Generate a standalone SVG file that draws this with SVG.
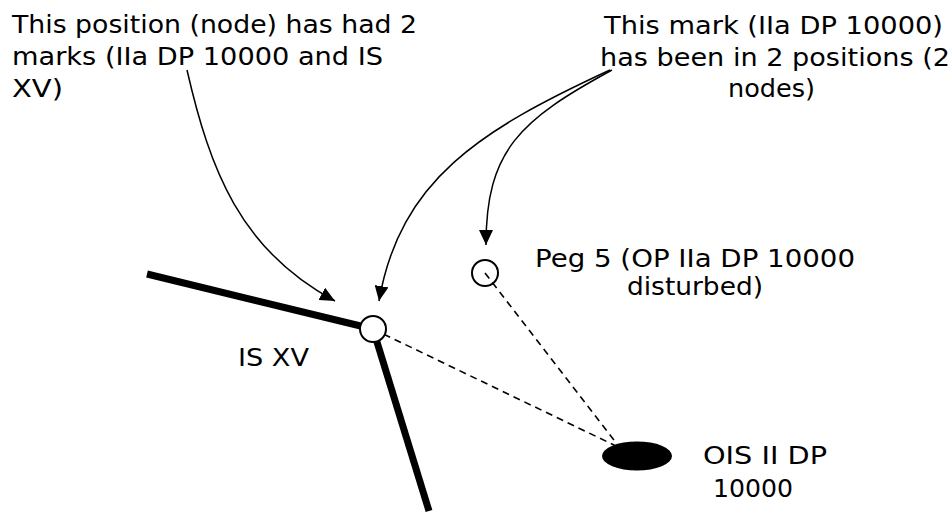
<svg xmlns="http://www.w3.org/2000/svg" width="952" height="513" viewBox="0 0 952 513">
<style>
text{font-family:"DejaVu Sans","Liberation Sans",sans-serif;font-size:25px;fill:#000}
.thick{stroke:#000;stroke-width:7;fill:none}
.dash{stroke:#000;stroke-width:1.6;stroke-dasharray:7 5;fill:none}
.arr{stroke:#000;stroke-width:1.5;fill:none;marker-end:url(#ah)}
</style>
<defs>
<marker id="ah" markerWidth="16" markerHeight="14" refX="15" refY="7" orient="auto" markerUnits="userSpaceOnUse">
<path d="M0,0 L15,7 L0,14 Z" fill="#000"/>
</marker>
</defs>
<rect width="952" height="513" fill="#fff"/>
<g id="edges">
<line class="thick" x1="147" y1="274" x2="373" y2="329"/>
<line class="thick" x1="373" y1="329" x2="429" y2="511"/>
<line class="dash" x1="373" y1="329" x2="616" y2="446"/>
<line class="dash" x1="485" y1="273" x2="617" y2="444"/>
<path class="arr" d="M187,70 C210,170 240,250 335,301"/>
<path class="arr" d="M610,70 C480,130 400,180 379,301"/>
<path class="arr" d="M612,70 C520,120 486,150 486,245"/>
</g>
<g id="node-isxv">
<circle cx="373" cy="329" r="13" fill="#fff" stroke="#000" stroke-width="2"/>
<text x="238" y="366" textLength="71" lengthAdjust="spacingAndGlyphs">IS XV</text>
</g>
<g id="node-peg5">
<circle cx="485" cy="273" r="13" fill="none" stroke="#000" stroke-width="2"/>
<text x="535" y="267" textLength="320" lengthAdjust="spacingAndGlyphs">Peg 5 (OP IIa DP 10000</text>
<text x="627" y="295" textLength="136" lengthAdjust="spacingAndGlyphs">disturbed)</text>
</g>
<g id="node-ois">
<ellipse cx="637" cy="456" rx="35" ry="14.5" fill="#000"/>
<text x="703" y="464" textLength="124" lengthAdjust="spacingAndGlyphs">OIS II DP</text>
<text x="713" y="497" textLength="80" lengthAdjust="spacingAndGlyphs">10000</text>
</g>
<g id="note-position">
<text x="12" y="33" textLength="405" lengthAdjust="spacingAndGlyphs">This position (node) has had 2</text>
<text x="12" y="65" textLength="371" lengthAdjust="spacingAndGlyphs">marks (IIa DP 10000 and IS</text>
<text x="12" y="97" textLength="51" lengthAdjust="spacingAndGlyphs">XV)</text>
</g>
<g id="note-mark">
<text x="604" y="34" textLength="339" lengthAdjust="spacingAndGlyphs">This mark (IIa DP 10000)</text>
<text x="600" y="66" textLength="350" lengthAdjust="spacingAndGlyphs">has been in 2 positions (2</text>
<text x="728" y="97" textLength="87" lengthAdjust="spacingAndGlyphs">nodes)</text>
</g>
</svg>
